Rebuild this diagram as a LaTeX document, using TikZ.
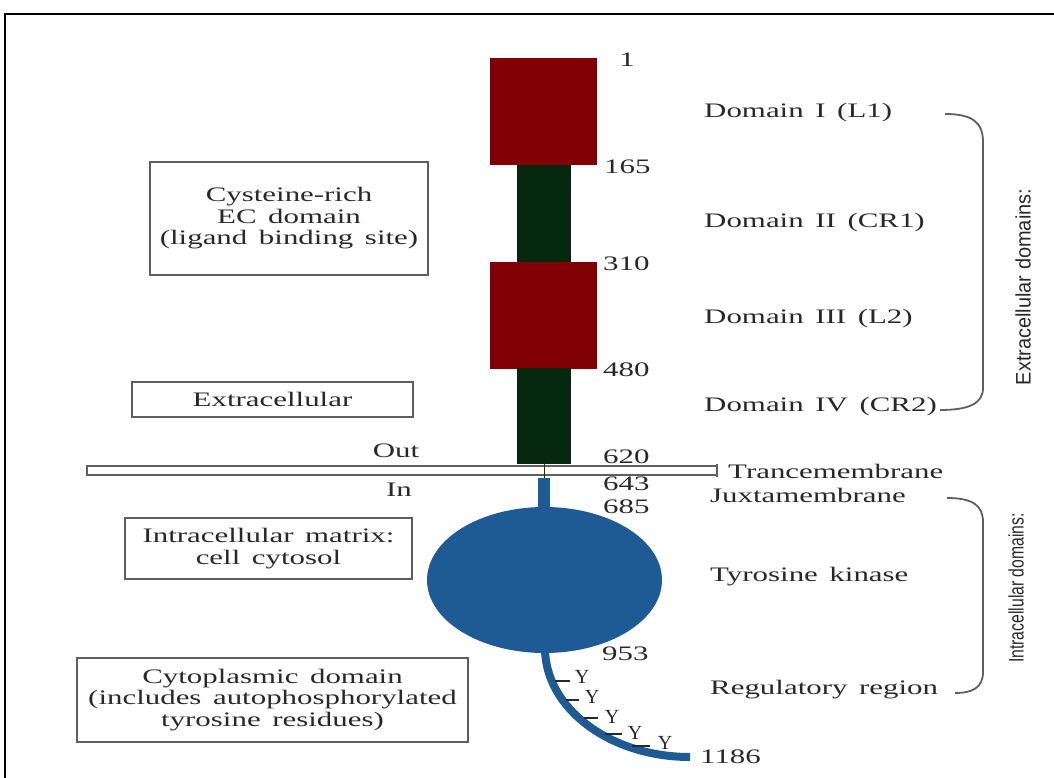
\documentclass[tikz,border=0pt]{standalone}
\usepackage{fontspec}
\setmainfont{Liberation Serif}[FakeStretch=1.5,WordSpace=1.5]
\newfontfamily\yfont{Liberation Serif}
\newfontfamily\rotfont{Liberation Sans}
\definecolor{domred}{RGB}{128,0,4}
\definecolor{domgreen}{RGB}{6,40,14}
\definecolor{kinblue}{RGB}{30,91,148}
\definecolor{boxgray}{RGB}{95,95,95}
\definecolor{txtgray}{RGB}{40,40,40}
\begin{document}
\begin{tikzpicture}[x=1pt,y=-1pt,
  lbl/.style={inner sep=0pt, text=txtgray, font=\fontsize{20.6}{21.5}\selectfont},
  numlbl/.style={lbl, anchor=west},
  rlbl/.style={lbl, anchor=west},
  infobox/.style={lbl, draw=boxgray, line width=1.6pt, align=center},
  ylbl/.style={inner sep=0pt, text=txtgray, font=\yfont\fontsize{20}{20}\selectfont},
  tick/.style={line width=1.3pt, txtgray},
  brace/.style={draw=boxgray, line width=1.8pt},
  rotlbl/.style={inner sep=0pt, text=txtgray, rotate=90, font=\rotfont\fontsize{21}{21}\selectfont}
]
\useasboundingbox (0,0) rectangle (1054,778);
% outer frame
\draw[line width=2.6pt, black] (5,780) -- (5,14) -- (1056,14);

% extracellular domains
\fill[domred] (490,58) rectangle (597,165);
\fill[domgreen] (517,165) rectangle (571,263);
\fill[domred] (490,262) rectangle (597,369);
\fill[domgreen] (517,368) rectangle (571,464);

% membrane
\draw[draw=boxgray, fill=white, line width=1.3pt] (87,466) rectangle (717,475);
\draw[line width=1.8pt, boxgray] (717,464) -- (717,477);
\draw[line width=1pt, txtgray] (544,463) -- (544,479);

% intracellular
\fill[kinblue] (538,478) rectangle (550,512);
\fill[kinblue] (544.5,580) ellipse [x radius=117.5, y radius=73];
\draw[kinblue, line width=8pt] (545,645) -- (545,648) arc[start angle=180, end angle=90, x radius=145, y radius=109];

% tyrosine ticks and labels
\coordinate (t1a) at (555,681); \coordinate (t1b) at (570,681);
\coordinate (t2a) at (566,700); \coordinate (t2b) at (579,700);
\coordinate (t3a) at (584,718); \coordinate (t3b) at (598,718);
\coordinate (t4a) at (605,734); \coordinate (t4b) at (622,734);
\coordinate (t5a) at (632,746); \coordinate (t5b) at (650,746);
\draw[tick] (t1a) -- (t1b);
\draw[tick] (t2a) -- (t2b);
\draw[tick] (t3a) -- (t3b);
\draw[tick] (t4a) -- (t4b);
\draw[tick] (t5a) -- (t5b);
\node[ylbl] (y1) at (582,677) {Y};
\node[ylbl] (y2) at (592,697) {Y};
\node[ylbl] (y3) at (612,717) {Y};
\node[ylbl] (y4) at (635,733) {Y};
\node[ylbl] (y5) at (665,743) {Y};

% residue numbers
\node[lbl] (n1) at (627,60) {1};
\node[numlbl] (n165) at (604,167) {165};
\node[numlbl] (n310) at (603,264) {310};
\node[numlbl] (n480) at (603,370) {480};
\node[numlbl] (n620) at (603,457) {620};
\node[numlbl] (n643) at (603,484) {643};
\node[numlbl] (n685) at (603,507) {685};
\node[numlbl] (n953) at (602,654) {953};
\node[numlbl] (n1186) at (700,757) {1186};

% right labels
\node[rlbl] (d1) at (704,113) {Domain I (L1)};
\node[rlbl] (d2) at (704,223) {Domain II (CR1)};
\node[rlbl] (d3) at (704,319) {Domain III (L2)};
\node[rlbl] (d4) at (704,407) {Domain IV (CR2)};
\node[rlbl] (tm) at (728,471) {Trancemembrane};
\node[rlbl] (jm) at (710,495) {Juxtamembrane};
\node[rlbl] (tk) at (710,577) {Tyrosine kinase};
\node[rlbl] (rr) at (710,690) {Regulatory region};

% braces
\draw[brace] (945,114) .. controls (972,114) and (983,122) .. (983,142) -- (983,388) .. controls (983,404) and (968,410) .. (940,410);
\draw[brace] (947,498) .. controls (972,498) and (983,505) .. (983,522) -- (983,672) .. controls (983,688) and (972,693) .. (955,693);
\node[rotlbl] (exd) at (1023,287) {\scalebox{0.95}[1]{Extracellular domains:}};
\node[rotlbl] (ind) at (1016,588) {\scalebox{0.75}[1]{Intracellular domains:}};

% left boxes
\node[infobox, minimum width=278pt, minimum height=113pt] (cys) at (289,218.5) {Cysteine-rich\\EC domain\\(ligand binding site)};
\node[infobox, minimum width=281pt, minimum height=35pt] (exc) at (272.5,399.5) {Extracellular};
\node[lbl] (out) at (396,451) {Out};
\node[lbl] (in) at (399,490) {In};
\node[infobox, minimum width=287pt, minimum height=61pt] (icm) at (268.5,548.5) {Intracellular matrix:\\cell cytosol};
\node[infobox, minimum width=391pt, minimum height=84pt] (cyt) at (272.5,700) {Cytoplasmic domain\\(includes autophosphorylated\\tyrosine residues)};
\end{tikzpicture}
\end{document}
